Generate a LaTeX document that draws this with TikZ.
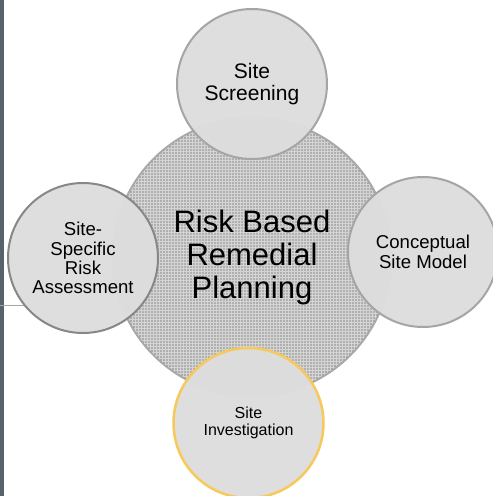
\documentclass[tikz,border=0pt]{standalone}
\usepackage{fontspec}
\setmainfont{Liberation Sans}
\usetikzlibrary{patterns}

\definecolor{stripgray}{RGB}{86,99,105}
\definecolor{bubblefill}{RGB}{221,221,221}
\definecolor{bubbleline}{RGB}{165,165,165}
\definecolor{darkline}{RGB}{135,135,135}
\definecolor{hubfill}{RGB}{176,176,176}
\definecolor{hubline}{RGB}{168,168,168}
\definecolor{pickline}{RGB}{247,200,90}

\tikzset{
  hub/.style={circle, minimum size=276pt, inner sep=0pt, draw=hubline, line width=4pt,
    fill=hubfill, postaction={pattern=grid, pattern color=white!45!hubfill},
    align=center, font=\fontsize{31}{33}\selectfont},
  bubble/.style={circle, minimum size=150pt, inner sep=0pt, draw=bubbleline, line width=2pt,
    fill=bubblefill, fill opacity=0.985, text opacity=1, align=center},
}

\begin{document}
\begin{tikzpicture}[x=1pt, y=-1pt]
\useasboundingbox (0,0) rectangle (493,496);
\clip (0,0) rectangle (493,496);

% slide edge
\fill[stripgray] (0,0) rectangle (4,496);
\coordinate (edge a) at (0,305);
\coordinate (edge b) at (24,305);
\draw[bubbleline, line width=0.8pt] (edge a) -- (edge b);

\node[hub] (plan) at (252,257) {Risk Based\\Remedial\\Planning};

\node[bubble, font=\fontsize{21}{22}\selectfont] (screen) at (252,84) {Site\\Screening};
\node[bubble, font=\fontsize{18.6}{20}\selectfont] (model) at (423,252) {Conceptual\\Site Model};
\node[bubble, draw=darkline, font=\fontsize{18.6}{19.3}\selectfont] (assess) at (83,258) {Site-\\Specific\\Risk\\Assessment};
\node[bubble, draw=pickline, line width=2.5pt, font=\fontsize{16}{17}\selectfont] (invest) at (248.5,423) {Site\\Investigation};
\end{tikzpicture}
\end{document}
